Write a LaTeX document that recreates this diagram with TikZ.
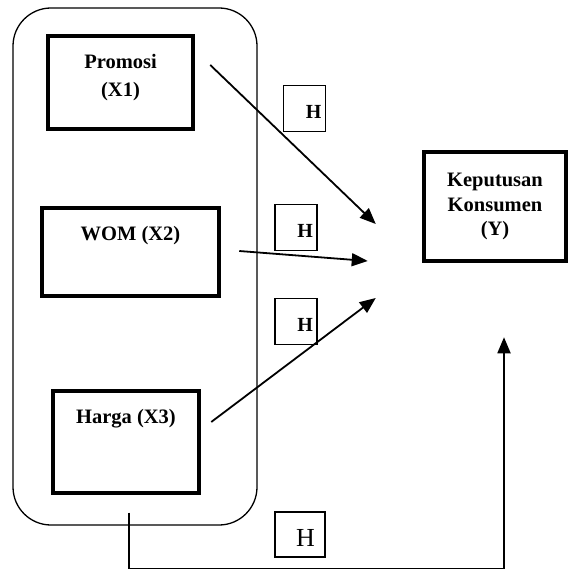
\documentclass[tikz,border=0pt]{standalone}
\usepackage{fontspec}
\setmainfont{Liberation Serif}
\usetikzlibrary{arrows.meta,calc}

\begin{document}
\begin{tikzpicture}[x=1pt,y=-1pt,
    varbox/.style={draw, line width=4.5pt, inner sep=0pt},
    varlabel/.style={anchor=north, inner sep=0pt, yshift=-20.5pt, align=center,
        font=\fontsize{20.5}{28}\selectfont\bfseries},
    hbox/.style={draw, line width=1.3pt, minimum width=42pt, minimum height=46pt,
        inner sep=0pt, text width=34pt, align=right, text height=20pt,
        font=\fontsize{20}{20}\selectfont\bfseries},
    link/.style={line width=1.8pt, -{Triangle[length=16pt,width=13pt]}}]
    \useasboundingbox (0,0) rectangle (570,569);
    % Group of the three variables
    \node[draw, line width=1.3pt, rounded corners=38pt, minimum width=244pt, minimum height=517pt] (group) at (135,266.5) {};
    % Variable boxes
    \node[varbox, minimum width=145pt, minimum height=93pt, label={[varlabel]north:{Promosi\\(X1)}}] (promosi) at (120.5,82.5) {};
    \node[varbox, minimum width=177pt, minimum height=88pt, label={[varlabel]north:WOM (X2)}] (wom) at (130.5,252) {};
    \node[varbox, minimum width=146pt, minimum height=102pt, label={[varlabel]north:Harga (X3)}] (harga) at (126,442) {};
    \node[varbox, minimum width=142pt, minimum height=109pt, align=center,
        font=\fontsize{20.5}{23}\selectfont\bfseries] (keputusan) at (495,206.5) {Keputusan\\[1.5pt]Konsumen\\[1.5pt](Y)};
    % Hypothesis boxes
    \node[hbox] (h1) at (304.5,108.5) {H};
    \node[hbox] (h2) at (296,227.5) {H};
    \node[hbox] (h3) at (296,321.5) {H};
    \node[hbox, minimum width=50pt, minimum height=45pt, text width=30pt, text height=24pt,
        font=\fontsize{26}{26}\selectfont] (h4) at (300,534.5) {H};
    % Arrow ends
    \coordinate (s1) at ($(promosi.east)+(15,-17.5)$);
    \coordinate (s2) at ($(wom.east)+(18,-1)$);
    \coordinate (s3) at ($(harga.east)+(10,-20)$);
    \coordinate (s4) at ($(group.south)+(-6,-13)$);
    \coordinate (t1) at ($(keputusan.west)+(-46,17.5)$);
    \coordinate (t2) at ($(keputusan.west)+(-54,54.5)$);
    \coordinate (t3) at ($(keputusan.west)+(-46,91.5)$);
    \coordinate (t4) at ($(keputusan.south)+(9,74)$);
    % Arrows
    \draw[link] (s1) -- (t1);
    \draw[link] (s2) -- (t2);
    \draw[link] (s3) -- (t3);
    \draw[link] (s4) -- ++(0,56) -| (t4);
\end{tikzpicture}
\end{document}
